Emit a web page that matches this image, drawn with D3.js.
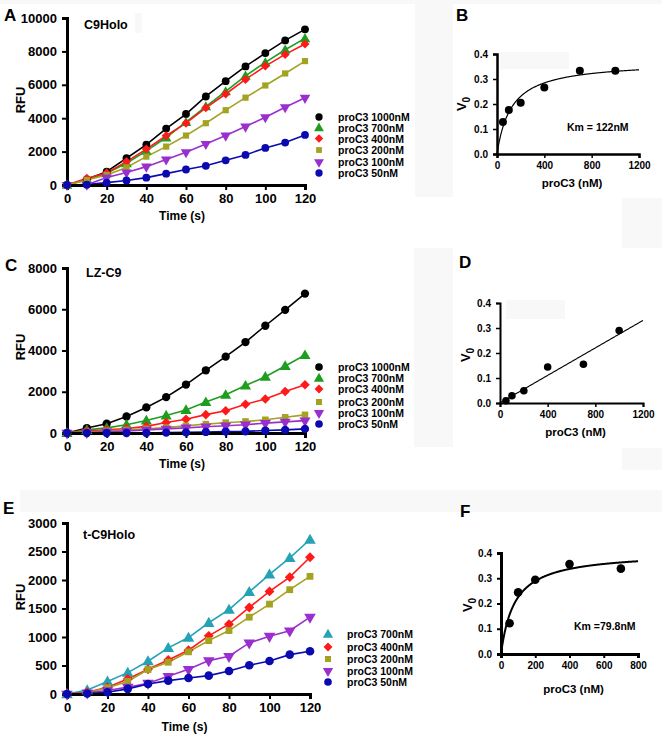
<!DOCTYPE html>
<html>
<head>
<meta charset="utf-8">
<script src="https://cdn.jsdelivr.net/npm/d3@7/dist/d3.min.js"></script>
<style>
  html, body { margin: 0; padding: 0; background: #fff; }
  svg { display: block; font-family: Arial, "Liberation Sans", sans-serif; font-weight: bold; }
</style>
</head>
<body>
<svg id="chart" width="662" height="738"></svg>
<script>
// ---------- DATA ----------
const times = [0,10,20,30,40,50,60,70,80,90,100,110,120];

// Panel A: C9Holo
const c9Holo1000 = [0,340,800,1600,2420,3380,4250,5300,6220,7100,7900,8660,9320];
const c9Holo700  = [0,300,700,1300,2040,2840,3760,4700,5600,6540,7340,8100,8780];
const c9Holo400  = [0,400,720,1400,2150,2950,3700,4620,5450,6320,7120,7820,8440];
const c9Holo200  = [0,300,600,1050,1700,2300,2960,3700,4480,5230,5960,6680,7420];
const c9Holo100  = [0,20,450,750,1100,1530,1960,2460,2960,3500,4060,4660,5220];
const c9Holo50   = [0,20,140,270,440,680,930,1150,1480,1800,2220,2540,3000];

// Panel C: LZ-C9
const lzC9_1000 = [0,240,450,800,1240,1740,2350,3040,3700,4410,5200,5970,6760];
const lzC9_700  = [0,150,250,400,610,850,1120,1500,1850,2300,2730,3250,3780];
const lzC9_400  = [0,100,150,220,320,510,670,890,1080,1390,1650,2010,2340];
const lzC9_200  = [0,50,100,150,200,260,350,430,500,560,640,760,880];
const lzC9_100  = [0,20,60,100,150,200,250,300,350,400,480,540,600];
const lzC9_50   = [0,0,0,0,0,20,30,50,70,80,120,150,200];

// Panel E: t-C9Holo
const tC9Holo700 = [0,70,220,375,575,810,990,1250,1480,1790,2100,2390,2710];
const tC9Holo400 = [0,30,120,264,434,598,768,1020,1225,1518,1800,2050,2400];
const tC9Holo200 = [0,20,110,220,430,557,740,937,1113,1348,1577,1830,2064];
const tC9Holo100 = [0,20,60,120,190,310,433,586,662,897,1014,1110,1348];
const tC9Holo50  = [0,10,30,90,176,234,281,322,404,504,580,691,750];

const legendSix  = ["proC3 1000nM","proC3 700nM","proC3 400nM","proC3 200nM","proC3 100nM","proC3 50nM"];
const legendFive = ["proC3 700nM","proC3 400nM","proC3 200nM","proC3 100nM","proC3 50nM"];

// Michaelis-Menten panels: substrate (nM) and V0
const proC3B = [50,100,200,400,700,1000];
const v0B    = [0.128,0.176,0.205,0.266,0.333,0.333];
const kmB = 122, vmaxB = 0.371;

const proC3D = [50,100,200,400,700,1000];
const v0D    = [0.009,0.029,0.049,0.144,0.155,0.290];
const slopeD = 0.000275, interceptD = 0.0004;

const proC3F = [50,100,200,400,700];
const v0F    = [0.122,0.244,0.294,0.356,0.338];
const kmF = 79.8, vmaxF = 0.404;

const timeTicks = [0,20,40,60,80,100,120];
const rfuTicksA = [0,2000,4000,6000,8000,10000];
const rfuTicksC = [0,2000,4000,6000,8000];
const rfuTicksE = [0,500,1000,1500,2000,2500,3000];
const concTicks1200 = [0,400,800,1200];
const concTicks800  = [0,200,400,600,800];
const v0Ticks = [0,0.1,0.2,0.3,0.4];

// ---------- STYLE ----------
const COL = {
  black: "#000000", green: "#1e9e1e", red: "#ff1a1a", olive: "#a3a221",
  purple: "#9a2fce", blue: "#0a0ab0", teal: "#25a2b5"
};
const svg = d3.select("#chart");

// faint scan-background patches
const patches = [
  [0,0,662,4],[415,0,38,197],[622,198,40,50],[414,248,39,199],[622,448,40,22],
  [20,490,642,22],[500,52,69,17],[506,300,59,19],[135,13,7,20]
];
svg.selectAll("rect.patch").data(patches).join("rect")
  .attr("x", d=>d[0]).attr("y", d=>d[1]).attr("width", d=>d[2]).attr("height", d=>d[3])
  .attr("fill", "#f8f8f8");

function symbolPath(kind, size) {
  const types = { circle: d3.symbolCircle, up: d3.symbolTriangle, down: d3.symbolTriangle,
                  diamond: d3.symbolSquare, square: d3.symbolSquare };
  return d3.symbol().type(types[kind]).size(size)();
}
function drawMarker(g, kind, x, y, size, color) {
  let s = size;
  if (kind === "diamond") s = size * 0.85;
  if (kind === "square") s = size * 0.8;
  const p = g.append("path").attr("d", symbolPath(kind, s)).attr("fill", color);
  if (kind === "down") p.attr("transform", `translate(${x},${y}) rotate(180)`);
  else if (kind === "up") p.attr("transform", `translate(${x},${y + 0.8})`);
  else if (kind === "diamond") p.attr("transform", `translate(${x},${y}) rotate(45)`);
  else p.attr("transform", `translate(${x},${y})`);
}

function styleAxis(g, w) {
  g.select(".domain").attr("stroke", "#000").attr("stroke-width", w);
  g.selectAll(".tick line").attr("stroke", "#000").attr("stroke-width", Math.max(1.5, w - 1));
  g.selectAll(".tick text").attr("fill", "#000");
}

function kineticPanel(cfg) {
  const x = d3.scaleLinear().domain([0,120]).range(cfg.xr);
  const y = d3.scaleLinear().domain(cfg.ydom).range(cfg.yr);
  const g = svg.append("g");
  cfg.series.forEach(s => {
    const pts = times.map((t,i) => [x(t), y(s.values[i])]);
    g.append("path").attr("d", d3.line()(pts)).attr("fill","none")
      .attr("stroke", s.color).attr("stroke-width", 1.6);
  });
  const ax = g.append("g").attr("transform", `translate(0,${cfg.yr[0]})`)
    .call(d3.axisBottom(x).tickValues(timeTicks).tickSizeOuter(0).tickSize(5).tickPadding(4));
  ax.selectAll("text").style("font-size", cfg.tickFont + "px");
  styleAxis(ax, 3);
  const ay = g.append("g").attr("transform", `translate(${cfg.xr[0]},0)`)
    .call(d3.axisLeft(y).tickValues(cfg.yticks).tickSizeOuter(0).tickSize(5).tickPadding(5).tickFormat(d3.format("d")));
  ay.selectAll("text").style("font-size", cfg.tickFont + "px");
  styleAxis(ay, 3);
  cfg.series.forEach(s => {
    times.forEach((t,i) => drawMarker(g, s.shape, x(t), y(s.values[i]), cfg.mSize, s.color));
  });
  g.append("text").attr("x", (cfg.xr[0]+cfg.xr[1])/2 - 4).attr("y", cfg.xTitleY)
    .attr("text-anchor","middle").style("font-size","12px").text("Time (s)");
  g.append("text").attr("transform", `translate(${cfg.yTitleX},${cfg.yTitleY}) rotate(-90)`)
    .attr("text-anchor","middle").style("font-size","13px").text("RFU");
  g.append("text").attr("x", cfg.nameX).attr("y", cfg.nameY).style("font-size","12.5px").text(cfg.name);
  g.append("text").attr("x", cfg.letterX).attr("y", cfg.letterY).style("font-size","17px").text(cfg.letter);
  cfg.series.forEach((s,i) => {
    const ry = cfg.legRows[i];
    drawMarker(g, s.shape, cfg.legMX, ry, cfg.legSize, s.color);
    g.append("text").attr("x", cfg.legTX).attr("y", ry + 4).style("font-size","10.5px").text(cfg.labels[i]);
  });
}

function mmPanel(cfg) {
  const x = d3.scaleLinear().domain(cfg.xdom).range(cfg.xr);
  const y = d3.scaleLinear().domain([0,0.4]).range(cfg.yr);
  const g = svg.append("g");
  const xs = d3.range(0, cfg.xdom[1] + 0.001, cfg.xdom[1] / 300);
  const fitPts = xs.map(v => [x(v), y(cfg.fit(v))]);
  g.append("path").attr("d", d3.line()(fitPts)).attr("fill","none")
    .attr("stroke","#000").attr("stroke-width", cfg.fitW);
  const ax = g.append("g").attr("transform", `translate(0,${cfg.yr[0]})`)
    .call(d3.axisBottom(x).tickValues(cfg.xticks).tickSizeOuter(0).tickSize(4).tickPadding(4).tickFormat(d3.format("d")));
  ax.selectAll("text").style("font-size","10px");
  styleAxis(ax, cfg.axW);
  const ay = g.append("g").attr("transform", `translate(${cfg.xr[0]},0)`)
    .call(d3.axisLeft(y).tickValues(v0Ticks).tickSizeOuter(0).tickSize(4).tickPadding(5).tickFormat(d3.format(".1f")));
  ay.selectAll("text").style("font-size","10px");
  styleAxis(ay, cfg.axW);
  cfg.xs.forEach((v,i) => {
    g.append("circle").attr("cx", x(v)).attr("cy", y(cfg.ys[i])).attr("r", cfg.r).attr("fill","#000");
  });
  g.append("text").attr("x", (cfg.xr[0]+cfg.xr[1])/2 + 4).attr("y", cfg.xTitleY)
    .attr("text-anchor","middle").style("font-size","11.5px").text("proC3 (nM)");
  const vt = g.append("text").attr("transform", `translate(${cfg.vX},${cfg.vY}) rotate(-90)`)
    .attr("text-anchor","middle").style("font-size","13px");
  vt.append("tspan").text("V");
  vt.append("tspan").attr("dy", 4).style("font-size","10px").text("0");
  g.append("text").attr("x", cfg.letterX).attr("y", cfg.letterY).style("font-size","17px").text(cfg.letter);
  if (cfg.km) g.append("text").attr("x", cfg.kmX).attr("y", cfg.kmY).style("font-size","10.5px").text(cfg.km);
}

// ---------- PANELS ----------
kineticPanel({
  xr:[67,305], ydom:[0,10000], yr:[185,18], yticks: rfuTicksA, tickFont: 13, mSize: 48,
  series: [
    {values:c9Holo1000, color:COL.black, shape:"circle"},
    {values:c9Holo700, color:COL.green, shape:"up"},
    {values:c9Holo400, color:COL.red, shape:"diamond"},
    {values:c9Holo200, color:COL.olive, shape:"square"},
    {values:c9Holo100, color:COL.purple, shape:"down"},
    {values:c9Holo50, color:COL.blue, shape:"circle"}
  ],
  labels: legendSix, legRows:[117,127.5,138.5,150,162,173], legMX:319, legTX:338, legSize:42,
  xTitleY:220, yTitleX:25, yTitleY:100, name:"C9Holo", nameX:84, nameY:29, letter:"A", letterX:4, letterY:21
});
kineticPanel({
  xr:[67,305], ydom:[0,8000], yr:[433,268], yticks: rfuTicksC, tickFont: 13, mSize: 54,
  series: [
    {values:lzC9_1000, color:COL.black, shape:"circle"},
    {values:lzC9_700, color:COL.green, shape:"up"},
    {values:lzC9_400, color:COL.red, shape:"diamond"},
    {values:lzC9_200, color:COL.olive, shape:"square"},
    {values:lzC9_100, color:COL.purple, shape:"down"},
    {values:lzC9_50, color:COL.blue, shape:"circle"}
  ],
  labels: legendSix, legRows:[367,378,389,402,413,424], legMX:319, legTX:338, legSize:46,
  xTitleY:468, yTitleX:25, yTitleY:347, name:"LZ-C9", nameX:86, nameY:277, letter:"C", letterX:5, letterY:271
});
kineticPanel({
  xr:[67,310], ydom:[0,3000], yr:[694,523], yticks: rfuTicksE, tickFont: 13, mSize: 58,
  series: [
    {values:tC9Holo700, color:COL.teal, shape:"up"},
    {values:tC9Holo400, color:COL.red, shape:"diamond"},
    {values:tC9Holo200, color:COL.olive, shape:"square"},
    {values:tC9Holo100, color:COL.purple, shape:"down"},
    {values:tC9Holo50, color:COL.blue, shape:"circle"}
  ],
  labels: legendFive, legRows:[634,647,659,671,682], legMX:328, legTX:347, legSize:46,
  xTitleY:731, yTitleX:25, yTitleY:597, name:"t-C9Holo", nameX:83, nameY:539, letter:"E", letterX:3, letterY:514
});

mmPanel({
  xdom:[0,1200], xr:[497,639], yr:[154,54], xticks: concTicks1200, axW: 2.5, fitW: 1.2,
  fit: v => vmaxB * v / (kmB + v), xs: proC3B, ys: v0B, r: 4,
  xTitleY:187, vX:466, vY:104, letter:"B", letterX:456, letterY:21,
  km:"Km = 122nM", kmX:567, kmY:131
});
mmPanel({
  xdom:[0,1200], xr:[500,643], yr:[403,303], xticks: concTicks1200, axW: 2, fitW: 1.1,
  fit: v => slopeD * v + interceptD, xs: proC3D, ys: v0D, r: 3.8,
  xTitleY:436, vX:470, vY:355, letter:"D", letterX:459, letterY:268
});
mmPanel({
  xdom:[0,800], xr:[501,638], yr:[654,553], xticks: concTicks800, axW: 3, fitW: 2,
  fit: v => vmaxF * v / (kmF + v), xs: proC3F, ys: v0F, r: 4.3,
  xTitleY:693, vX:472, vY:605, letter:"F", letterX:460, letterY:517,
  km:"Km =79.8nM", kmX:574, kmY:630
});
</script>
</body>
</html>
